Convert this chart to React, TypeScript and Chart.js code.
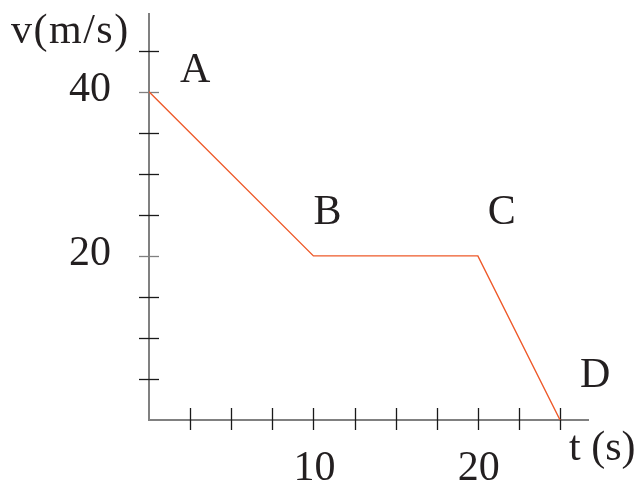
import React, { useEffect, useRef } from "react";
import { Chart, registerables } from "chart.js";

Chart.register(...registerables);

// ---- data ----
const timePoints = [0, 10, 20, 25];
const velocityValues = [40, 20, 20, 0];
const pointNames = ["A", "B", "C", "D"];
const xTickValues = [2.5, 5, 7.5, 10, 12.5, 15, 17.5, 20, 22.5, 25];
const yTickValues = [5, 10, 15, 20, 25, 30, 35, 40, 45];
const xTickLabels = [
  { value: 10, text: "10" },
  { value: 20, text: "20" },
];
const yTickLabels = [
  { value: 40, text: "40" },
  { value: 20, text: "20" },
];
const xAxisTitle = "t (s)";
const yAxisTitle = "v(m/s)";
const xMax = 26.76;
const yMax = 49.6;

// ---- style ----
const FONT = '42px "Liberation Serif", "Times New Roman", serif';
const TEXT_COLOR = "#231f20";
const AXIS_COLOR = "#808080";
const TICK_COLOR = "#1a1a1a";
const LINE_COLOR = "#ee5a2a";
const labelOffsets = [
  { dx: 31, dy: -10 },
  { dx: 0, dy: -32 },
  { dx: 10, dy: -32 },
  { dx: 20, dy: -33 },
];

const axesPlugin = {
  id: "customAxes",
  beforeDatasetsDraw(chart: any) {
    const ctx = chart.ctx;
    const xs = chart.scales.x;
    const ys = chart.scales.y;
    const x0 = xs.getPixelForValue(0);
    const y0 = ys.getPixelForValue(0);
    const xEnd = xs.getPixelForValue(xMax);
    const yEnd = ys.getPixelForValue(yMax);
    ctx.save();
    // axes
    ctx.strokeStyle = AXIS_COLOR;
    ctx.lineWidth = 2;
    ctx.beginPath();
    ctx.moveTo(x0, yEnd);
    ctx.lineTo(x0, y0);
    ctx.lineTo(xEnd, y0);
    ctx.stroke();
    // ticks
    ctx.lineWidth = 1.3;
    xTickValues.forEach((v) => {
      const px = Math.round(xs.getPixelForValue(v)) + 0.5;
      ctx.strokeStyle = TICK_COLOR;
      ctx.beginPath();
      ctx.moveTo(px, y0 - 12);
      ctx.lineTo(px, y0 + 10);
      ctx.stroke();
    });
    yTickValues.forEach((v) => {
      const py = Math.round(ys.getPixelForValue(v)) + 0.5;
      ctx.strokeStyle = v === 20 || v === 40 ? AXIS_COLOR : TICK_COLOR;
      ctx.beginPath();
      ctx.moveTo(x0 - 10, py);
      ctx.lineTo(x0 + 10, py);
      ctx.stroke();
    });
    ctx.restore();
  },
  afterDatasetsDraw(chart: any) {
    const ctx = chart.ctx;
    const xs = chart.scales.x;
    const ys = chart.scales.y;
    const x0 = xs.getPixelForValue(0);
    const y0 = ys.getPixelForValue(0);
    ctx.save();
    ctx.font = FONT;
    ctx.fillStyle = TEXT_COLOR;
    ctx.textBaseline = "alphabetic";
    // y tick labels
    ctx.textAlign = "right";
    yTickLabels.forEach((t) => {
      ctx.fillText(t.text, x0 - 38, ys.getPixelForValue(t.value) + 9);
    });
    // x tick labels
    ctx.textAlign = "center";
    xTickLabels.forEach((t) => {
      ctx.fillText(t.text, xs.getPixelForValue(t.value) + 1, y0 + 60);
    });
    // axis titles
    ctx.textAlign = "left";
    ctx.fillText(xAxisTitle, 569, 460);
    // point names
    pointNames.forEach((name, i) => {
      const px = xs.getPixelForValue(timePoints[i]);
      const py = ys.getPixelForValue(velocityValues[i]);
      const o = labelOffsets[i];
      ctx.fillText(name, px + o.dx, py + o.dy);
    });
    (ctx as any).letterSpacing = "1.5px";
    ctx.fillText(yAxisTitle, 11, 43);
    ctx.restore();
  },
};

export default function App() {
  const canvasRef = useRef<HTMLCanvasElement | null>(null);

  useEffect(() => {
    document.body.style.margin = "0";
    const canvas = canvasRef.current;
    if (!canvas) return;
    const chart = new Chart(canvas, {
      type: "line",
      data: {
        datasets: [
          {
            data: timePoints.map((t, i) => ({ x: t, y: velocityValues[i] })),
            borderColor: LINE_COLOR,
            borderWidth: 1.4,
            pointRadius: 0,
            tension: 0,
            fill: false,
          },
        ],
      },
      options: {
        animation: false,
        responsive: false,
        devicePixelRatio: 1,
        layout: { padding: { left: 149, right: 51, top: 13, bottom: 62 } },
        plugins: {
          legend: { display: false },
          tooltip: { enabled: false },
        },
        scales: {
          x: { type: "linear", min: 0, max: xMax, display: false },
          y: { type: "linear", min: 0, max: yMax, display: false },
        },
      },
      plugins: [axesPlugin],
    });
    return () => chart.destroy();
  }, []);

  return (
    <div style={{ position: "absolute", left: 0, top: 0, width: 640, height: 482, background: "#fff" }}>
      <canvas ref={canvasRef} width={640} height={482} style={{ width: 640, height: 482 }} />
    </div>
  );
}
